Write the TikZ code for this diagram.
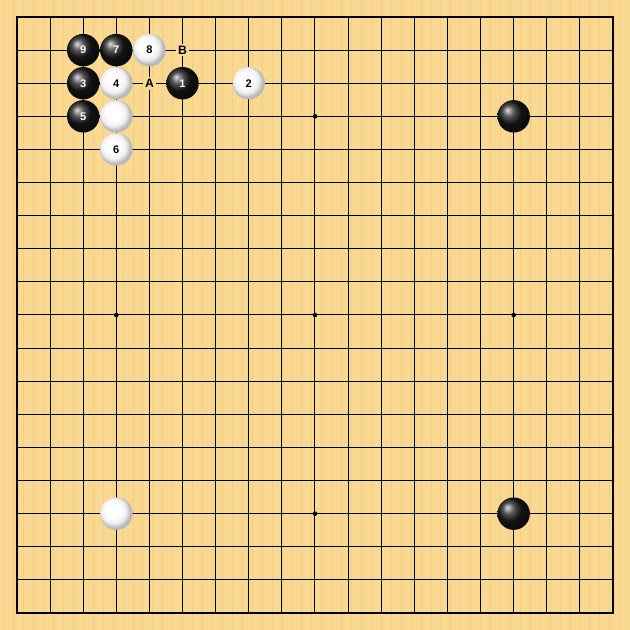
\documentclass[tikz,border=0pt]{standalone}
\usepackage{fontspec}
\setsansfont{Liberation Sans}
\definecolor{boardwood}{RGB}{249,217,146}
\definecolor{woodgrain}{RGB}{243,206,128}
\newcommand\boardmax{18}
\pgfdeclareradialshading{whiteshell}{\pgfpoint{-7bp}{7bp}}{%
  color(0bp)=(white); color(10bp)=(white); color(19bp)=(black!6);
  color(25bp)=(black!28); color(50bp)=(black!28)}

\begin{document}
\begin{tikzpicture}[
  blackstone/.style={circle, minimum size=0.98cm, inner sep=0pt,
    shading=ball, ball color=black!90, text=white,
    font=\sffamily\bfseries\fontsize{9.5}{9.5}\selectfont},
  whitestone/.style={circle, minimum size=0.98cm, inner sep=0pt,
    shading=whiteshell, text=black,
    font=\sffamily\bfseries\fontsize{9.5}{9.5}\selectfont},
  boardlabel/.style={fill=boardwood, inner sep=1.8pt,
    font=\sffamily\bfseries\fontsize{10.5}{10.5}\selectfont}
]
\useasboundingbox[fill=boardwood] (-0.513,0.513) rectangle (18.514,-18.514);
% faint grain of the board
\foreach \g in {-0.4,-0.1,...,18.4}
  \draw[woodgrain, line width=0.6pt] (\g,0.513) -- (\g,-18.514);
% grid
\foreach \i in {1,...,17} {
  \draw[line width=0.85pt] (\i,0) -- (\i,-\boardmax);
  \draw[line width=0.85pt] (0,-\i) -- (\boardmax,-\i);
}
\draw[line width=1.4pt] (0,0) rectangle (\boardmax,-\boardmax);
% star points
\foreach \x in {3,9,15}
  \foreach \y in {3,9,15}
    \fill (\x,-\y) circle (0.07);
% stones
\node[blackstone] (b1) at (5,-2) {1};
\node[whitestone] (w2) at (7,-2) {2};
\node[blackstone] (b3) at (2,-2) {3};
\node[whitestone] (w4) at (3,-2) {4};
\node[blackstone] (b5) at (2,-3) {5};
\node[whitestone] (w6) at (3,-4) {6};
\node[blackstone] (b7) at (3,-1) {7};
\node[whitestone] (w8) at (4,-1) {8};
\node[blackstone] (b9) at (2,-1) {9};
\node[whitestone] (w33) at (3,-3) {};
\node[blackstone] (b153) at (15,-3) {};
\node[whitestone] (w315) at (3,-15) {};
\node[blackstone] (b1515) at (15,-15) {};
% marked points
\node[boardlabel] (la) at (4,-2) {A};
\node[boardlabel] (lb) at (5,-1) {B};
\end{tikzpicture}
\end{document}
